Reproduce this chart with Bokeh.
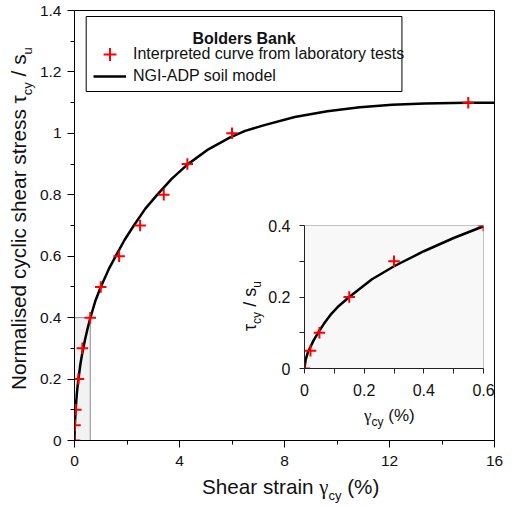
from bokeh.plotting import figure
from bokeh.models import (Range1d, FixedTicker, NumeralTickFormatter, Label,
                          Legend, LegendItem, BoxAnnotation, Div)
from bokeh.layouts import column
from bokeh.embed import file_html
from bokeh.resources import INLINE

# ---------------- data ----------------
model_x = [0, 0.004, 0.012, 0.02, 0.03, 0.047, 0.065, 0.09, 0.115, 0.15, 0.225, 0.3,
           0.4, 0.5, 0.6, 0.8, 1.0, 1.3, 1.6, 1.9, 2.26, 2.7, 3.13, 3.7, 4.31,
           5.1, 5.91, 6.5, 7.2, 8.39, 9.63, 10.87, 12.1, 13.34, 14.95, 16.0]
model_y = [0, 0.025, 0.047, 0.06, 0.078, 0.102, 0.125, 0.153, 0.175, 0.2, 0.249, 0.286,
           0.328, 0.365, 0.398, 0.456, 0.5, 0.557, 0.605, 0.652, 0.70, 0.755, 0.798, 0.852, 0.899,
           0.948, 0.986, 1.008, 1.026, 1.053, 1.072, 1.085, 1.093, 1.097, 1.10, 1.10]

test_x = [0, 0.02, 0.05, 0.15, 0.3, 0.6, 1.0, 1.7, 2.5, 3.4, 4.3, 6.0, 15.0]
test_y = [0, 0.05, 0.1, 0.2, 0.3, 0.4, 0.5, 0.6, 0.7, 0.8, 0.9, 1.0, 1.1]

x_ticks = [0, 4, 8, 12, 16]
x_minor = [2, 6, 10, 14]
y_ticks = [0, 0.2, 0.4, 0.6, 0.8, 1.0, 1.2, 1.4]
y_minor = [0.1, 0.3, 0.5, 0.7, 0.9, 1.1, 1.3]

inset_x_ticks = [0, 0.2, 0.4, 0.6]
inset_x_minor = [0.1, 0.3, 0.5]
inset_y_ticks = [0, 0.2, 0.4]
inset_y_minor = [0.1, 0.3]

legend_title = "Bolders Bank"
series_names = ["Interpreted curve from laboratory tests", "NGI-ADP soil model"]

# ---------------- layout constants ----------------
W, H = 514, 507
ML, MR, MT, MB = 74, 9, 10, 67
FX0, FX1, FY0, FY1 = ML, W - MR, MT, H - MB
XMAX, YMAX = x_ticks[-1], y_ticks[-1]
SANS = "Liberation Sans"
SERIF = "Liberation Serif"
TXT = "#111111"


def mx(px):
    return XMAX * (px - FX0) / (FX1 - FX0)


def my(py):
    return YMAX * (FY1 - py) / (FY1 - FY0)


p = figure(width=W, height=H, x_range=Range1d(0, XMAX), y_range=Range1d(0, YMAX),
           output_backend="svg", toolbar_location=None,
           min_border_left=ML, min_border_right=MR, min_border_top=MT, min_border_bottom=MB,
           background_fill_color="white", border_fill_color="white",
           outline_line_color="black", outline_line_width=1)
p.grid.visible = False

for ax in (p.xaxis[0], p.yaxis[0]):
    ax.axis_line_color = "black"
    ax.major_tick_line_color = "black"
    ax.minor_tick_line_color = "black"
    ax.major_tick_in = 0
    ax.minor_tick_in = 0
    ax.major_tick_out = 7
    ax.minor_tick_out = 4
    ax.major_label_text_font = SANS
    ax.major_label_text_font_size = "15.5px"
    ax.major_label_text_color = TXT
p.xaxis.major_label_standoff = 8
p.yaxis.major_label_standoff = 6

p.xaxis.ticker = FixedTicker(ticks=x_ticks, minor_ticks=x_minor)
p.yaxis.ticker = FixedTicker(ticks=y_ticks, minor_ticks=y_minor)
p.xaxis.formatter = NumeralTickFormatter(format="0.[0]")
p.yaxis.formatter = NumeralTickFormatter(format="0.[0]")

# shaded zoom region (extent of the inset)
p.quad(left=[inset_x_ticks[0]], right=[inset_x_ticks[-1]], bottom=[inset_y_ticks[0]],
       top=[inset_y_ticks[-1]], fill_color="#f2f2f2", line_color="#8a8a8a", line_width=1)

curve = p.line(model_x, model_y, line_color="black", line_width=2.5)
pts = p.scatter(test_x, test_y, marker="cross", size=11.5, line_color="red", line_width=2)

# legend frame + title
box = BoxAnnotation(left=mx(86), right=mx(410), top=my(16), bottom=my(91),
                    fill_color="white", fill_alpha=1.0, line_color="black",
                    line_alpha=1.0, line_width=1)
p.add_layout(box)

leg_common = dict(padding=0, spacing=0, glyph_width=33, label_height=20, label_standoff=7,
                  label_text_font=SANS, label_text_font_size="16px", label_text_color=TXT,
                  border_line_alpha=0, background_fill_alpha=0)
leg1 = Legend(items=[LegendItem(label=series_names[0], renderers=[pts])],
              location=(19, 370), glyph_height=32, **leg_common)
leg2 = Legend(items=[LegendItem(label=series_names[1], renderers=[curve])],
              location=(19, 354), glyph_height=20, **leg_common)
p.add_layout(leg1)
p.add_layout(leg2)

p.add_layout(Label(x=mx(248), y=my(38), text=legend_title, text_align="center",
                   text_baseline="alphabetic", text_font=SANS, text_font_size="16px",
                   text_font_style="bold", text_color=TXT))

# ---------------- inset ----------------
IL, IT = 230, 215
IML, IMR, IMT, IMB = 73, 20, 10, 62
IFW, IFH = 180, 143
IW, IH = IML + IFW + IMR, IMT + IFH + IMB
IXMAX, IYMAX = inset_x_ticks[-1], inset_y_ticks[-1]

inset = figure(width=IW, height=IH, x_range=Range1d(0, IXMAX), y_range=Range1d(0, IYMAX),
               output_backend="svg", toolbar_location=None,
               min_border_left=IML, min_border_right=IMR, min_border_top=IMT, min_border_bottom=IMB,
               background_fill_color="#f8f8f8", border_fill_alpha=0,
               outline_line_color="#8a8a8a", outline_line_dash="1 1", outline_line_width=1)
inset.margin = (-(H - IT), 0, H - (IT + IH), IL)
inset.grid.visible = False
for ax in (inset.xaxis[0], inset.yaxis[0]):
    ax.axis_line_color = "#222222"
    ax.major_tick_line_color = "#222222"
    ax.minor_tick_line_color = "#222222"
    ax.major_tick_in = 0
    ax.minor_tick_in = 0
    ax.major_tick_out = 5
    ax.minor_tick_out = 5
    ax.major_label_text_font = SANS
    ax.major_label_text_font_size = "16px"
    ax.major_label_text_color = TXT
inset.xaxis.major_label_standoff = 10
inset.yaxis.major_label_standoff = 9
inset.xaxis.ticker = FixedTicker(ticks=inset_x_ticks, minor_ticks=inset_x_minor)
inset.yaxis.ticker = FixedTicker(ticks=inset_y_ticks, minor_ticks=inset_y_minor)
inset.xaxis.formatter = NumeralTickFormatter(format="0.[0]")
inset.yaxis.formatter = NumeralTickFormatter(format="0.[0]")

in_mx = [x for x in model_x if x <= IXMAX]
in_my = model_y[:len(in_mx)]
in_tx = [x for x in test_x if x <= IXMAX]
in_ty = test_y[:len(in_tx)]
inset.line(in_mx, in_my, line_color="black", line_width=2.5)
inset.scatter(in_tx, in_ty, marker="cross", size=11.5, line_color="red", line_width=2)

# ---------------- axis titles as positioned HTML text ----------------
BASE = 0.8465  # baseline offset (em) for line-height 1 with Liberation fonts


def sub(t, size, shift):
    return (f'<span style="font-size:{size}px;position:relative;top:{shift}px;">{t}</span>')


def greek(t, font):
    return f'<span style="font-family:\'{font}\';">{t}</span>'


def title_div(html, base_x, base_y, size, width, rotate=False):
    height = int(round(size * 1.2))
    if rotate:
        left = base_x - BASE * size
        top = base_y
    else:
        left = base_x
        top = base_y - BASE * size
    styles = {"font-family": SANS, "font-size": f"{size}px", "line-height": "1",
              "color": TXT, "white-space": "nowrap", "overflow": "visible"}
    if rotate:
        styles["transform"] = "rotate(-90deg)"
        styles["transform-origin"] = "0 0"
    inner = (f'<span style="font-family:\'{SANS}\';font-size:{size}px;line-height:1;'
             f'color:{TXT};white-space:nowrap;">{html}</span>')
    top_i = int(round(top))
    return Div(text=inner, width=width, height=height, styles=styles,
               margin=(top_i - H, 0, H - top_i - height, int(round(left))))


y_title = title_div("Normalised cyclic shear stress " + greek("\u03c4", SANS) + sub("cy", 13, 6)
                    + " / s" + sub("u", 13, 6), 27, 390, 20.8, 380, rotate=True)
x_title = title_div("Shear strain " + greek("\u03b3", SERIF) + sub("cy", 13, 6) + " (%)",
                    201.7, 495, 20.7, 200)
iy_title = title_div(greek("\u03c4", SANS) + sub("cy", 12, 5) + " / s" + sub("u", 12, 5),
                     256, 331, 18, 80, rotate=True)
ix_title = title_div(greek("\u03b3", SERIF) + sub("cy", 12, 5) + " (%)", 364, 421, 17, 80)

layout = column(p, inset, y_title, x_title, iy_title, ix_title)
open("out.html", "w").write(file_html(layout, INLINE))
